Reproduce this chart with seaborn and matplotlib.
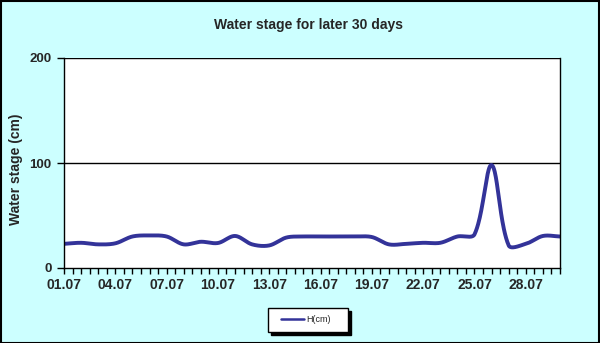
import numpy as np
import pandas as pd
import matplotlib
matplotlib.use("Agg")
import matplotlib.pyplot as plt
from matplotlib.patches import Rectangle
from matplotlib.ticker import MultipleLocator, FixedLocator, FixedFormatter
import seaborn as sns

# ---- data (daily water stage, cm) ----
dates = ["01.07", "02.07", "03.07", "04.07", "05.07", "06.07", "07.07", "08.07", "09.07", "10.07",
         "11.07", "12.07", "13.07", "14.07", "15.07", "16.07", "17.07", "18.07", "19.07", "20.07",
         "21.07", "22.07", "23.07", "24.07", "25.07", "26.07", "27.07", "28.07", "29.07", "30.07"]
stage = [23, 24, 22.5, 23.5, 30, 31, 30, 22.5, 25, 23.8,
         30.5, 22.5, 21.5, 29, 30, 30, 30, 30, 29.5, 22.5,
         23, 24, 24, 30, 32, 98, 21.5, 23, 30.5, 30]
tick_labels = dates[::3][:10]
series_name = "H(cm)"
title = "Water stage for later 30 days"
ylabel = "Water stage (cm)"

sns.set_style("white")
plt.rcParams["font.family"] = ["Liberation Sans", "DejaVu Sans"]

# Excel-style smoothed line: cubic Bezier through the data points, with control
# points scaled by the on-screen length of the adjacent segments.
sx, sy = 17.1, 1.05  # approximate pixel scale per day / per cm
P = np.column_stack([np.arange(len(stage)) * sx, np.asarray(stage, float) * sy])
Pp = np.vstack([P[0], P, P[-1]])
n = len(P)
c_out = np.zeros_like(P)
c_in = np.zeros_like(P)
for i in range(n):
    prev, cur, nxt = Pp[i], Pp[i + 1], Pp[i + 2]
    T = nxt - prev
    dp = np.hypot(*(cur - prev))
    dn = np.hypot(*(nxt - cur))
    tot = dp + dn if dp + dn > 0 else 1.0
    c_out[i] = cur + T * (dn / tot) / 3.0
    c_in[i] = cur - T * (dp / tot) / 3.0
pts = []
t = np.linspace(0, 1, 40, endpoint=False)[:, None]
for i in range(n - 1):
    b0, b1, b2, b3 = P[i], c_out[i], c_in[i + 1], P[i + 1]
    seg = ((1 - t) ** 3) * b0 + 3 * ((1 - t) ** 2) * t * b1 + 3 * (1 - t) * t**2 * b2 + t**3 * b3
    pts.append(seg)
pts.append(P[-1][None, :])
pts = np.vstack(pts)
df = pd.DataFrame({"day": pts[:, 0] / sx, "H": pts[:, 1] / sy})

W, H = 600, 343
fig = plt.figure(figsize=(6.0, 3.43), dpi=100)
fig.patch.set_facecolor("#CCFFFF")
ax = fig.add_axes([64 / W, 1 - 268 / H, 496 / W, 210 / H])
ax.set_facecolor("white")

sns.lineplot(data=df, x="day", y="H", ax=ax, color="#333399", linewidth=2.8,
             label=series_name, sort=False)

ax.set_xlim(0, 29)
ax.set_ylim(0, 200)
ax.set_yticks([0, 100, 200])
ax.axhline(100, color="black", linewidth=1, zorder=1)
ax.axhline(200, color="black", linewidth=1, zorder=1)

ax.xaxis.set_major_locator(FixedLocator(np.arange(0, 28, 3)))
ax.xaxis.set_major_formatter(FixedFormatter(tick_labels))
ax.xaxis.set_minor_locator(MultipleLocator(0.5))
ax.tick_params(axis="x", which="both", direction="out", length=4, width=1, color="black",
               bottom=True, pad=3)
ax.tick_params(axis="x", which="major", labelsize=10)
ax.tick_params(axis="y", which="major", direction="out", length=5, width=1, color="black",
               left=True, labelsize=9.5, pad=4)
for lab in ax.get_xticklabels() + ax.get_yticklabels():
    lab.set_fontweight("bold")

for side, sp in ax.spines.items():
    sp.set_color("black")
    sp.set_linewidth(1)
ax.spines["top"].set_visible(False)

ax.set_xlabel("")
ax.set_ylabel(ylabel, fontsize=10, fontweight="bold")
ax.yaxis.set_label_coords(-0.082, 0.47)

fig.text(308 / W, 1 - 25 / H, title, ha="center", va="center", fontsize=10, fontweight="bold")

# legend: framed box with a hard black shadow
if ax.get_legend() is not None:
    ax.get_legend().remove()
x0, x1, y0, y1 = 268, 348, 308, 332
fig.patches.append(Rectangle(((x0 + 3) / W, 1 - (y1 + 3) / H), (x1 - x0) / W, (y1 - y0) / H,
                             transform=fig.transFigure, facecolor="black", edgecolor="black",
                             linewidth=1, zorder=3))
fig.patches.append(Rectangle((x0 / W, 1 - y1 / H), (x1 - x0) / W, (y1 - y0) / H,
                             transform=fig.transFigure, facecolor="white", edgecolor="black",
                             linewidth=1, zorder=4))
handles, labels = ax.get_legend_handles_labels()
leg = fig.legend(handles, labels, loc="center", bbox_to_anchor=(306 / W, 1 - 320 / H),
                 frameon=False, fontsize=6.5, handlelength=2.55, handletextpad=0.25,
                 borderpad=0, borderaxespad=0)
leg.set_zorder(5)
for ln in leg.get_lines():
    ln.set_linewidth(1.8)

fig.patches.append(Rectangle((0.001, 0.001), 0.997, 0.997, transform=fig.transFigure,
                             fill=False, edgecolor="black", linewidth=1.5))

fig.savefig("out.png", dpi=100, facecolor=fig.get_facecolor())
